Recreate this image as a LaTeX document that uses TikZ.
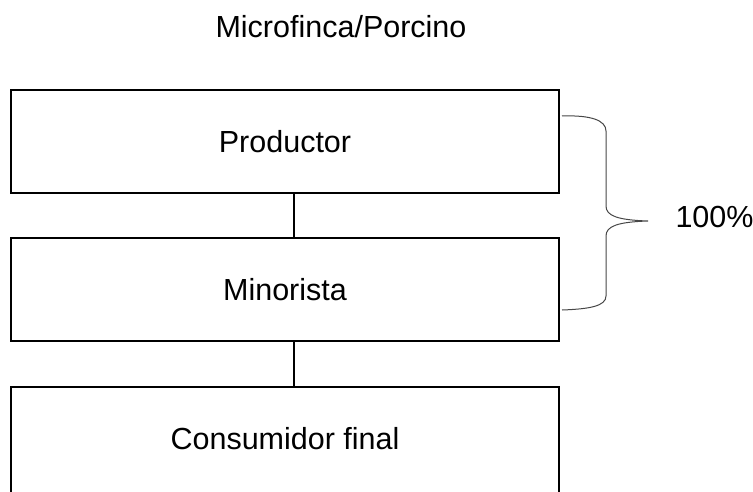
\documentclass[tikz,border=0pt]{standalone}
\usepackage{fontspec}
\setmainfont{Liberation Sans}
\begin{document}
\begin{tikzpicture}[x=1pt,y=-1pt,
  every node/.style={font=\fontsize{30.5}{36}\selectfont},
  stagebox/.style={draw=black,line width=2pt,minimum width=548pt,
    minimum height=103pt,inner sep=0pt,anchor=north},
  link/.style={draw=black,line width=2pt},
  bracepath/.style={draw=black!72,line width=1pt}]
  \useasboundingbox (0,0) rectangle (753,492);

  % title
  \node[anchor=base] (title) at (341,38) {Microfinca/Porcino};

  % chain of actors
  \node[stagebox] (prod) at (285,89) {Productor};
  \node[stagebox] (mino) at (285,237) {Minorista};
  \node[stagebox,text height=62pt,text depth=60pt] (cons) at (285,386) {Consumidor final};

  % links between the stages
  \draw[link] ([xshift=9pt]prod.south) -- ([xshift=9pt]mino.north);
  \draw[link] ([xshift=9pt]mino.south) -- ([xshift=9pt]cons.north);

  % share label and its brace
  \node[anchor=base west] (share) at (672,228) {100\%};
  \coordinate (btop) at (562,116);
  \coordinate (bbot) at (562,310);
  \coordinate (btip) at (648,221);
  \draw[bracepath] (btop) .. controls (590,115) and (606,120) .. (606,131)
    -- (606,206) .. controls (606,216) and (618,220) .. (btip)
    .. controls (618,222) and (606,226) .. (606,236)
    -- (606,296) .. controls (606,306) and (590,309) .. (bbot);
\end{tikzpicture}
\end{document}
